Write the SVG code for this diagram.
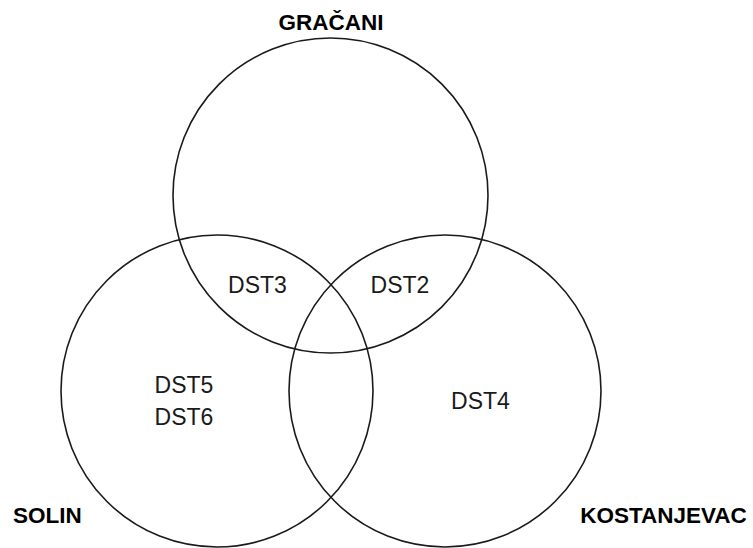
<svg xmlns="http://www.w3.org/2000/svg" width="753" height="548" viewBox="0 0 753 548">
<style>
.c{fill:none;stroke:#1a1a1a;stroke-width:1.6}
.t{font-family:"Liberation Sans",Arial,sans-serif;font-size:23px;fill:#1a1a1a;text-anchor:middle}
.b{font-weight:bold;font-size:22.5px;fill:#000}
</style>
<rect width="753" height="548" fill="#fff"/>
<g id="gracani"><circle class="c" cx="330.5" cy="195.5" r="157.5"/><text class="t b" x="331" y="30">GRAČANI</text></g>
<g id="solin"><circle class="c" cx="217" cy="391" r="156"/><text class="t b" x="47.5" y="523">SOLIN</text></g>
<g id="kostanjevac"><circle class="c" cx="445" cy="391" r="156"/><text class="t b" x="663.5" y="523">KOSTANJEVAC</text></g>
<g id="labels">
<text class="t" x="257.5" y="293">DST3</text>
<text class="t" x="400" y="293">DST2</text>
<text class="t" x="184" y="393">DST5</text>
<text class="t" x="184" y="425">DST6</text>
<text class="t" x="480.5" y="409">DST4</text>
</g>
<g id="connectors"></g>
</svg>
